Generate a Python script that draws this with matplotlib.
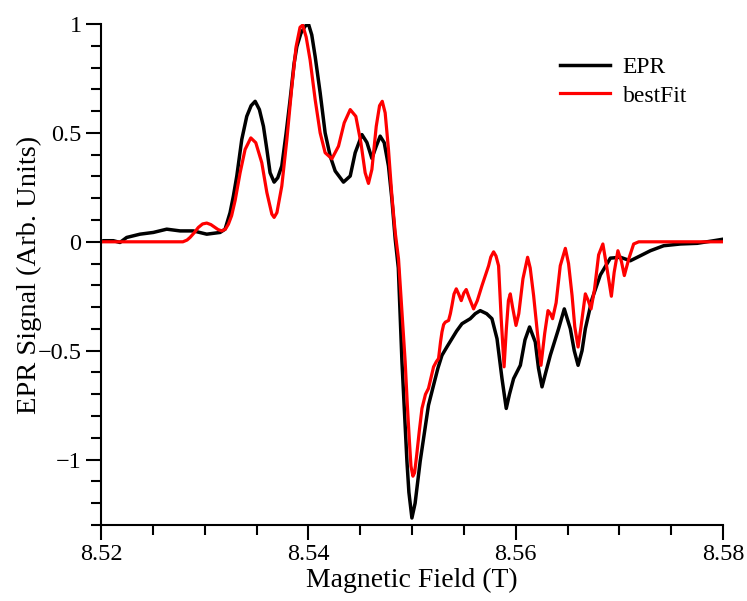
import numpy as np
import matplotlib
matplotlib.use("Agg")
import matplotlib.pyplot as plt
from matplotlib.ticker import MultipleLocator

plt.rcParams['font.family'] = ['Liberation Serif', 'DejaVu Serif']

field_epr = [8.5200, 8.52022, 8.52119, 8.52183, 8.52248, 8.52376, 8.52505, 8.52634,
             8.52763, 8.52891, 8.5302, 8.53149, 8.53197, 8.53245, 8.53277, 8.5331,
             8.53358, 8.53406, 8.53448, 8.53487, 8.53528, 8.53567, 8.536, 8.53631,
             8.5367, 8.53705, 8.53744, 8.53786, 8.53824, 8.53863, 8.53889, 8.53928,
             8.53969, 8.54001, 8.54033, 8.54066, 8.54114, 8.54162, 8.54211, 8.54259,
             8.54339, 8.54404, 8.54452, 8.54517, 8.54565, 8.54613, 8.54655, 8.54693,
             8.54732, 8.54773, 8.54806, 8.54838, 8.54868, 8.54903, 8.54951, 8.5497,
             8.54999, 8.5503, 8.55079, 8.55159, 8.55208, 8.5525, 8.55289, 8.5534,
             8.55385, 8.5543, 8.55482, 8.55562, 8.5561, 8.55658, 8.5572, 8.55771,
             8.5582, 8.55868, 8.55909, 8.5594, 8.5598, 8.56045, 8.5609, 8.56134,
             8.56189, 8.5622, 8.56254, 8.5629, 8.56334, 8.56414, 8.56469, 8.56527,
             8.56565, 8.56602, 8.5664, 8.56672, 8.56737, 8.56817, 8.56913, 8.5701,
             8.57106, 8.57203, 8.57299, 8.57428, 8.57589, 8.5775, 8.57911, 8.5800]
signal_epr = [0.0, 0.005, 0.005, -0.003, 0.02, 0.035, 0.043, 0.058,
              0.05, 0.05, 0.035, 0.043, 0.058, 0.134, 0.21, 0.302,
              0.47, 0.576, 0.625, 0.645, 0.607, 0.53, 0.424, 0.317,
              0.274, 0.294, 0.348, 0.50, 0.652, 0.82, 0.896, 0.957,
              0.99, 1.0, 0.95, 0.85, 0.684, 0.50, 0.393, 0.325,
              0.274, 0.302, 0.409, 0.492, 0.456, 0.383, 0.439, 0.485,
              0.455, 0.348, 0.195, 0.012, -0.12, -0.55, -1.007, -1.15,
              -1.268, -1.2, -1.007, -0.75, -0.658, -0.58, -0.521, -0.48,
              -0.445, -0.41, -0.376, -0.353, -0.33, -0.316, -0.33, -0.353,
              -0.445, -0.628, -0.765, -0.70, -0.628, -0.567, -0.45, -0.391,
              -0.46, -0.58, -0.666, -0.60, -0.521, -0.399, -0.308, -0.399,
              -0.50, -0.567, -0.50, -0.399, -0.262, -0.152, -0.075, -0.071,
              -0.087, -0.064, -0.041, -0.018, -0.01, -0.007, 0.005, 0.012]

# simulated best fit
field_fit = [8.5200, 8.5279, 8.5283, 8.52859, 8.529, 8.52939, 8.5298, 8.5302,
             8.5306, 8.531, 8.5313, 8.53165, 8.532, 8.53229, 8.5326, 8.53294,
             8.53342, 8.5339, 8.53445, 8.53493, 8.53551, 8.536, 8.53648, 8.5367,
             8.53697, 8.53744, 8.53793, 8.53841, 8.53882, 8.5392, 8.53946, 8.53979,
             8.54017, 8.54066, 8.54114, 8.54162, 8.54227, 8.54291, 8.54346, 8.54404,
             8.54458, 8.54507, 8.54548, 8.5458, 8.54613, 8.54655, 8.54687, 8.54713,
             8.54741, 8.54773, 8.54806, 8.54838, 8.5487, 8.549, 8.54934, 8.54955,
             8.54973, 8.5499, 8.55009, 8.55025, 8.55045, 8.5507, 8.55096, 8.5513,
             8.55159, 8.55185, 8.55208, 8.55235, 8.55256, 8.55275, 8.55289, 8.55305,
             8.55321, 8.55353, 8.5537, 8.55385, 8.55405, 8.55427, 8.5545, 8.55475,
             8.555, 8.55523, 8.5555, 8.55594, 8.5563, 8.55675, 8.55739, 8.5576,
             8.55787, 8.5581, 8.55835, 8.5586, 8.55888, 8.5591, 8.5593, 8.55948,
             8.5597, 8.56003, 8.5603, 8.5607, 8.56115, 8.5614, 8.56173, 8.5621,
             8.56244, 8.5628, 8.56312, 8.56335, 8.56356, 8.5639, 8.5643, 8.56479,
             8.5651, 8.56544, 8.5657, 8.56602, 8.5663, 8.56672, 8.567, 8.56727,
             8.5676, 8.568, 8.56841, 8.5688, 8.56923, 8.5695, 8.56986, 8.5702,
             8.57048, 8.5709, 8.57138, 8.57187, 8.5800]
signal_fit = [0.0, 0.0, 0.008, 0.02, 0.042, 0.066, 0.082, 0.086,
              0.079, 0.066, 0.056, 0.05, 0.058, 0.081, 0.12, 0.19,
              0.317, 0.424, 0.477, 0.455, 0.363, 0.226, 0.127, 0.112,
              0.134, 0.256, 0.47, 0.713, 0.896, 0.985, 0.995, 0.94,
              0.835, 0.652, 0.50, 0.409, 0.381, 0.439, 0.546, 0.607,
              0.576, 0.455, 0.317, 0.268, 0.332, 0.53, 0.625, 0.645,
              0.592, 0.424, 0.21, 0.043, -0.079, -0.3, -0.55, -0.75,
              -0.9, -1.03, -1.076, -1.06, -0.98, -0.87, -0.765, -0.70,
              -0.673, -0.62, -0.574, -0.55, -0.536, -0.46, -0.414, -0.38,
              -0.369, -0.361, -0.33, -0.293, -0.24, -0.216, -0.24, -0.27,
              -0.235, -0.219, -0.255, -0.308, -0.27, -0.201, -0.11, -0.07,
              -0.046, -0.065, -0.11, -0.35, -0.574, -0.40, -0.27, -0.239,
              -0.30, -0.384, -0.33, -0.17, -0.071, -0.12, -0.247, -0.42,
              -0.567, -0.42, -0.316, -0.33, -0.353, -0.28, -0.11, -0.03,
              -0.10, -0.247, -0.39, -0.483, -0.39, -0.239, -0.27, -0.308,
              -0.22, -0.06, -0.01, -0.12, -0.25, -0.14, -0.041, -0.09,
              -0.155, -0.08, -0.01, 0.0, 0.0]

fig = plt.figure(figsize=(7.47, 6.01), dpi=100)
ax = fig.add_axes([0.1352, 0.1265, 0.8327, 0.8336])

ax.plot(field_epr, signal_epr, color='black', lw=2.5, label='EPR',
        solid_joinstyle='round')
ax.plot(field_fit, signal_fit, color='red', lw=2.3, label='bestFit',
        solid_joinstyle='round')

ax.set_xlim(8.52, 8.58)
ax.set_ylim(-1.3, 1.0)
ax.xaxis.set_minor_locator(MultipleLocator(0.005))
ax.yaxis.set_minor_locator(MultipleLocator(0.1))
ax.set_xticks([8.52, 8.54, 8.56, 8.58])
ax.set_xticklabels(['8.52', '8.54', '8.56', '8.58'])
ax.set_yticks([-1, -0.5, 0, 0.5, 1])
ax.set_yticklabels(['\u22121', '\u22120.5', '0', '0.5', '1'])

for s in ['top', 'right']:
    ax.spines[s].set_visible(False)
for s in ['left', 'bottom']:
    ax.spines[s].set_linewidth(1.5)
ax.tick_params(which='major', direction='out', length=11, width=1.5,
               labelsize=17.5, pad=3)
ax.tick_params(which='minor', direction='out', length=7, width=1.5)

ax.set_xlabel('Magnetic Field (T)', fontsize=20, labelpad=2)
ax.set_ylabel('EPR Signal (Arb. Units)', fontsize=20.5, labelpad=-3)

ax.legend(loc='upper left', bbox_to_anchor=(0.738, 0.935), frameon=False,
          fontsize=17, handlelength=2.1, handletextpad=0.55,
          labelspacing=0.3, borderpad=0, borderaxespad=0)

fig.savefig('out.png', dpi=100)
